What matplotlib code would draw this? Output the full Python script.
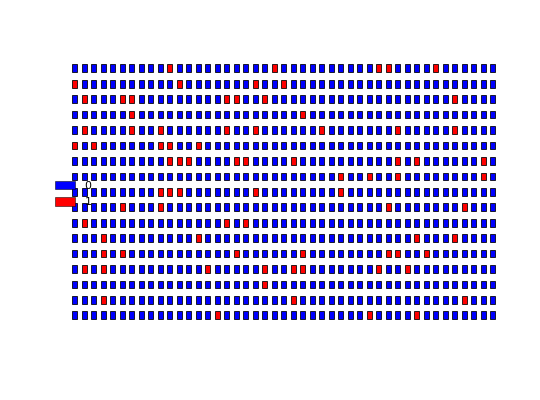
import matplotlib
matplotlib.use("Agg")
import matplotlib.pyplot as plt
from matplotlib.patches import Rectangle, Patch
import numpy as np

# grid size
n_rows = 17
n_cols = 45

# columns holding a 1 (red) in each row, top row first
red_cols = [
    [10, 21, 32, 33, 38],
    [0, 11, 19, 22],
    [1, 5, 6, 16, 17, 20, 40],
    [6, 24],
    [1, 6, 9, 16, 19, 26, 34, 40],
    [0, 2, 9, 10, 13],
    [10, 11, 12, 17, 18, 23, 34, 36, 43],
    [28, 31, 34, 43],
    [9, 10, 11, 19, 28],
    [5, 9, 33, 41],
    [1, 16, 18],
    [3, 13, 36, 40],
    [3, 5, 17, 24, 33, 34, 37],
    [1, 3, 14, 20, 23, 24, 32, 35],
    [20],
    [3, 23, 41],
    [15, 31, 36],
]

labels = ['0', '1']
colors = ['#0000ff', '#ff0000']


def make_matrix(rows, nr, nc):
    '''Turn the red column lists into a 0/1 matrix'''
    m = np.zeros((nr, nc), dtype=int)
    for r, cols in enumerate(rows):
        for c in cols:
            m[r, c] = 1
    return m


values = make_matrix(red_cols, n_rows, n_cols)

fig = plt.figure(figsize=(540 / 72, 400 / 72), dpi=72)
ax = fig.add_axes([70.0 / 540, 77.0 / 400, 427.5 / 540, 262.4 / 400])

w, h = 0.52, 0.5
for r in range(n_rows):
    for c in range(n_cols):
        ax.add_patch(Rectangle((c - w / 2, r - h / 2), w, h,
                               facecolor=colors[values[r, c]],
                               edgecolor='black', linewidth=0.8))

ax.set_xlim(-0.5, n_cols - 0.5)
ax.set_ylim(n_rows - 0.5, -0.5)
ax.axis('off')

handles = [Patch(facecolor=colors[i], edgecolor='black', linewidth=0.5)
           for i in range(len(labels))]
ax.legend(handles, labels, frameon=False, loc='upper left',
          bbox_to_anchor=(45 / 540, 0.573), bbox_transform=fig.transFigure,
          fontsize=11, handlelength=1.8, handleheight=0.8,
          labelspacing=0.6, handletextpad=0.9)

fig.savefig('out.png', dpi=72)
